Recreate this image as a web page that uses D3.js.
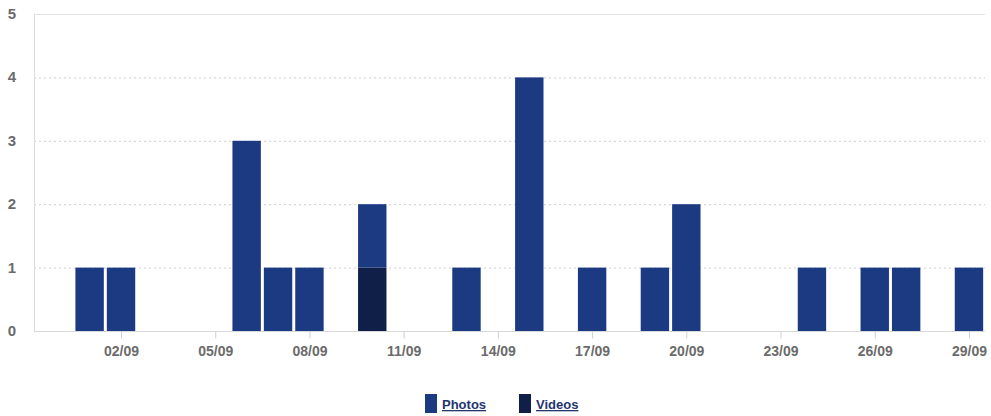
<!DOCTYPE html>
<html>
<head>
<meta charset="utf-8">
<script src="https://cdn.jsdelivr.net/npm/d3@7"></script>
<style>
  body { margin: 0; background: #fff; font-family: "Liberation Sans", Arial, sans-serif; }
  .legend text { cursor: pointer; }
</style>
</head>
<body>
<div id="chart"></div>
<script>
// day of september, values per series
var days   = [1, 2, 6, 7, 8, 10, 13, 15, 17, 19, 20, 24, 26, 27, 29];
var photos = [1, 1, 3, 1, 1, 1,  1,  4,  1,  1,  2,  1,  1,  1,  1];
var videos = [0, 0, 0, 0, 0, 1,  0,  0,  0,  0,  0,  0,  0,  0,  0];
var tickDays = [2, 5, 8, 11, 14, 17, 20, 23, 26, 29];
var yTicks = [0, 1, 2, 3, 4, 5];
var seriesNames = ["Photos", "Videos"];
var seriesColors = ["#1b3a82", "#0f1f47"];

var width = 991, height = 416;
var margin = {top: 14, right: 6, bottom: 85, left: 34};

var svg = d3.select("#chart").append("svg")
  .attr("width", width)
  .attr("height", height);

function day(d) { return new Date(2023, 8, d); }

var x = d3.scaleTime()
  .domain([new Date(2023, 7, 30, 5, 30), new Date(2023, 8, 29, 12, 15)])
  .range([margin.left, width - margin.right]);

var y = d3.scaleLinear()
  .domain([0, 5])
  .range([height - margin.bottom, margin.top]);

var dayW = x(day(2)) - x(day(1));
var barW = dayW - 3;

// gridlines
svg.append("g").selectAll("line")
  .data(yTicks.filter(function(t){ return t > 0; }))
  .enter().append("line")
  .attr("x1", margin.left)
  .attr("x2", width - margin.right)
  .attr("y1", function(d){ return y(d) + 0.5; })
  .attr("y2", function(d){ return y(d) + 0.5; })
  .attr("stroke", function(d){ return d == 5 ? "#e2e2e2" : "#cfcfcf"; })
  .attr("stroke-dasharray", function(d){ return d == 5 ? null : "2,3"; });

// left axis line
svg.append("line")
  .attr("x1", margin.left + 0.5).attr("x2", margin.left + 0.5)
  .attr("y1", y(5)).attr("y2", y(0))
  .attr("stroke", "#dcdcdc");

// y labels
svg.append("g").selectAll("text")
  .data(yTicks)
  .enter().append("text")
  .attr("x", 12)
  .attr("y", function(d){ return y(d) + 5; })
  .attr("text-anchor", "middle")
  .attr("fill", "#6b6b6b")
  .attr("font-size", "15px")
  .attr("font-weight", "bold")
  .text(function(d){ return d; });

// stacked bars
var rows = days.map(function(d, i){ return {day: d, Photos: photos[i], Videos: videos[i]}; });
var stack = d3.stack().keys(["Videos", "Photos"]);
var layers = stack(rows);

svg.append("g").selectAll("g")
  .data(layers)
  .enter().append("g")
  .attr("fill", function(l){ return seriesColors[seriesNames.indexOf(l.key)]; })
  .selectAll("rect")
  .data(function(l){ return l.filter(function(s){ return s[1] > s[0]; }); })
  .enter().append("rect")
  .attr("x", function(s){ return x(day(s.data.day)) - barW / 2; })
  .attr("width", barW)
  .attr("y", function(s){ return y(s[1]); })
  .attr("height", function(s){ return y(s[0]) - y(s[1]); });

// x axis
var xAxis = svg.append("g")
  .attr("transform", "translate(0," + (y(0) + 0.5) + ")")
  .call(d3.axisBottom(x)
    .tickValues(tickDays.map(day))
    .tickFormat(d3.timeFormat("%d/%m"))
    .tickSize(7)
    .tickSizeOuter(0)
    .tickPadding(8));

xAxis.select(".domain").attr("stroke", "#d8d8d8").attr("d", "M" + margin.left + ",0H" + (width - margin.right));
xAxis.selectAll(".tick line").attr("stroke", "#d0d0d0");
xAxis.selectAll(".tick text")
  .attr("fill", "#6b6b6b")
  .attr("font-size", "14px")
  .attr("font-weight", "bold")
  .attr("font-family", "Liberation Sans, Arial, sans-serif");

// legend
var legend = svg.append("g").attr("class", "legend");
var legX = [425, 519];
seriesNames.forEach(function(name, i){
  legend.append("rect")
    .attr("x", legX[i]).attr("y", 394)
    .attr("width", 12).attr("height", 19)
    .attr("fill", seriesColors[i]);
  legend.append("text")
    .attr("x", legX[i] + 17).attr("y", 409)
    .attr("fill", "#23356f")
    .attr("font-size", "13px")
    .attr("font-weight", "bold")
    .attr("text-decoration", "underline")
    .text(name);
});
</script>
</body>
</html>
